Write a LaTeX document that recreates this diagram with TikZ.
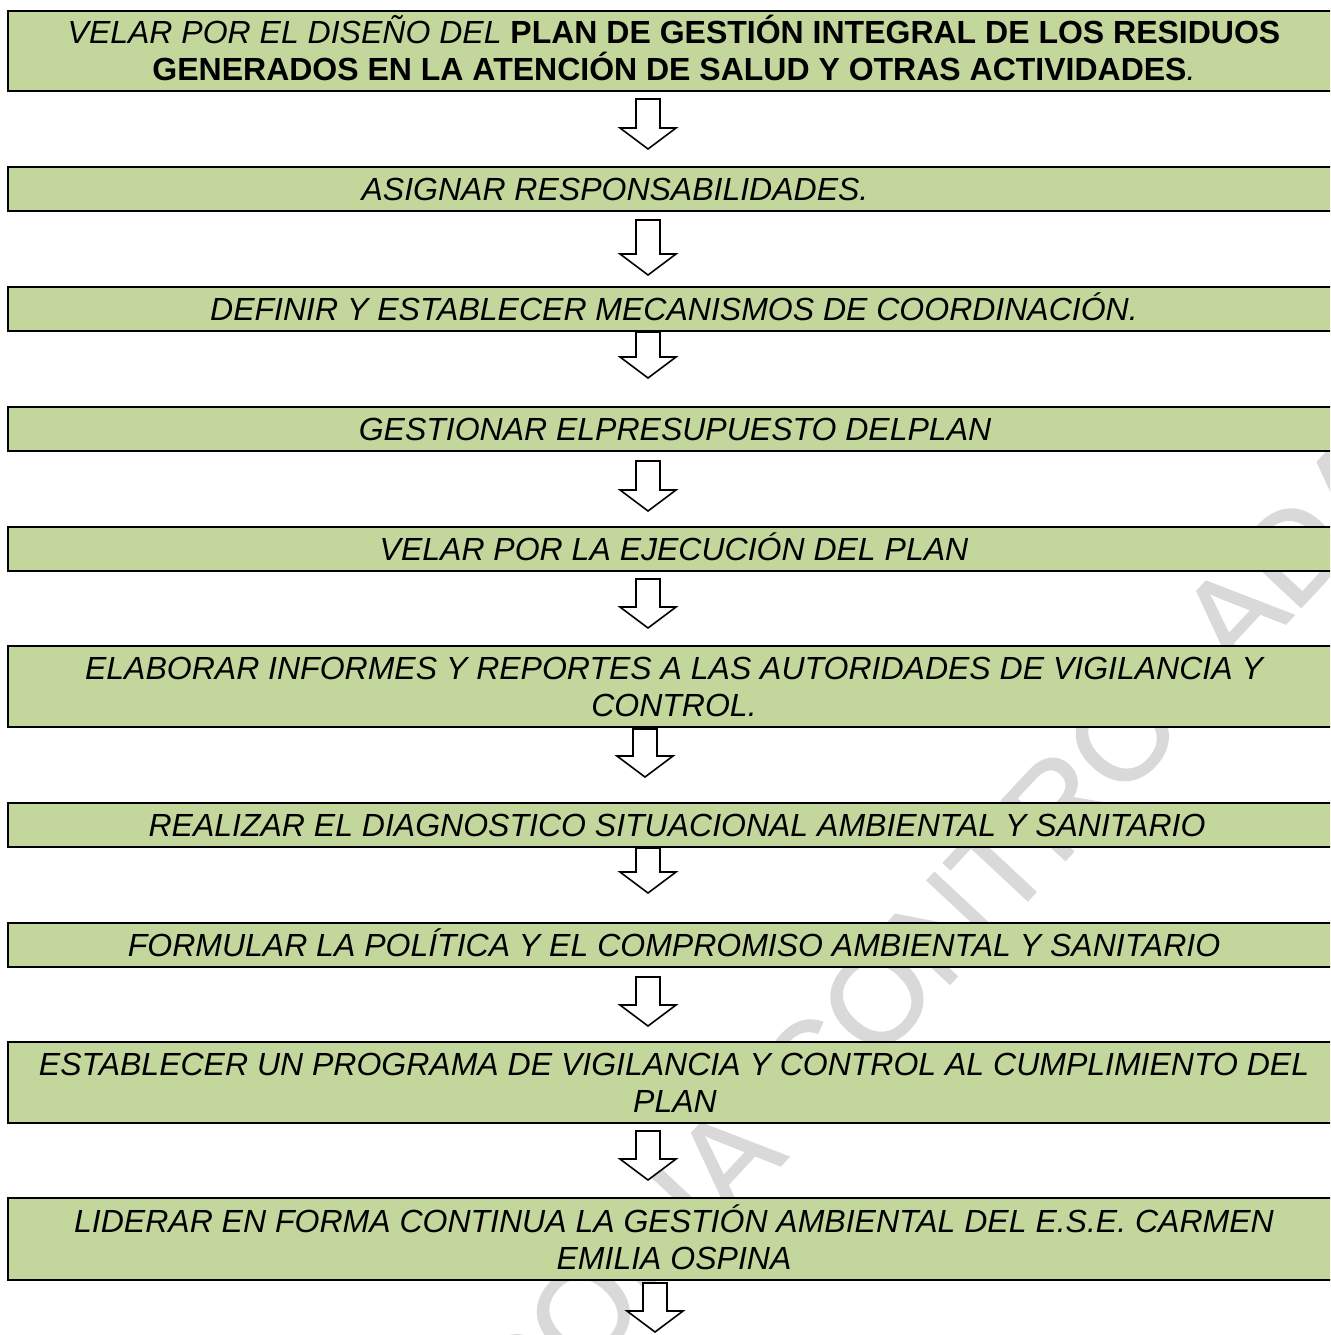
\documentclass[tikz,border=0pt]{standalone}
\usepackage{fontspec}
\setmainfont{Liberation Sans}
\newfontfamily\wmfont[FakeBold=1.2]{Liberation Sans}
\definecolor{boxgreen}{RGB}{195,214,155}
\definecolor{wmgray}{RGB}{217,217,217}
\newcommand\blockarr[3]{%
  \draw[blockarrow] (#1-12,#2) -- (#1+12,#2) -- (#1+12,#3-21) -- (#1+28,#3-21)
    -- (#1,#3) -- (#1-28,#3-21) -- (#1-12,#3-21) -- cycle;}
\begin{document}
\begin{tikzpicture}[x=1pt,y=-1pt,
  stepbox/.style={draw=black, line width=2pt, fill=boxgreen, minimum width=1332pt, inner sep=0pt},
  lbl/.style={inner sep=0pt, text height=23pt, text depth=0pt, font=\fontsize{32}{37}\selectfont\itshape},
  blockarrow/.style={draw=black, line width=1.6pt, fill=white, line join=miter},
  wmark/.style={text=wmgray, inner sep=0pt, font=\wmfont\fontsize{127}{127}\selectfont, rotate=47}]
\useasboundingbox (0,0) rectangle (1330,1335);
\clip (0,0) rectangle (1330,1335);
% watermark
\node[wmark] (wm) at (935,936) {COPIA CONTROLADA};
% boxes
\node[stepbox, minimum height=80pt] (b1) at (674,51) {};
\node[stepbox, minimum height=44pt] (b2) at (674,189) {};
\node[stepbox, minimum height=44pt] (b3) at (674,309) {};
\node[stepbox, minimum height=44pt] (b4) at (674,429) {};
\node[stepbox, minimum height=44pt] (b5) at (674,549) {};
\node[stepbox, minimum height=81pt] (b6) at (674,686.5) {};
\node[stepbox, minimum height=44pt] (b7) at (674,825) {};
\node[stepbox, minimum height=44pt] (b8) at (674,945) {};
\node[stepbox, minimum height=81pt] (b9) at (674,1082.5) {};
\node[stepbox, minimum height=82pt] (b10) at (674,1239) {};
% texts
\node[lbl] (t1a) at (674,32.5) {VELAR POR EL DISEÑO DEL \textbf{\upshape PLAN DE GESTIÓN INTEGRAL DE LOS RESIDUOS}};
\node[lbl] (t1b) at (674,69.5) {\textbf{\upshape GENERADOS EN LA ATENCIÓN DE SALUD Y OTRAS ACTIVIDADES}.};
\node[lbl] (t2) at (615,189) {ASIGNAR RESPONSABILIDADES.};
\node[lbl] (t3) at (674,309) {DEFINIR Y ESTABLECER MECANISMOS DE COORDINACIÓN.};
\node[lbl] (t4) at (675,429) {GESTIONAR ELPRESUPUESTO DELPLAN};
\node[lbl] (t5) at (674,549) {VELAR POR LA EJECUCIÓN DEL PLAN};
\node[lbl] (t6a) at (674,668) {ELABORAR INFORMES Y REPORTES A LAS AUTORIDADES DE VIGILANCIA Y};
\node[lbl] (t6b) at (674,705) {CONTROL.};
\node[lbl] (t7) at (677,825) {REALIZAR EL DIAGNOSTICO SITUACIONAL AMBIENTAL Y SANITARIO};
\node[lbl] (t8) at (674,945) {FORMULAR LA POLÍTICA Y EL COMPROMISO AMBIENTAL Y SANITARIO};
\node[lbl] (t9a) at (674,1064) {ESTABLECER UN PROGRAMA DE VIGILANCIA Y CONTROL AL CUMPLIMIENTO DEL};
\node[lbl] (t9b) at (675,1101) {PLAN};
\node[lbl] (t10a) at (674,1221) {LIDERAR EN FORMA CONTINUA LA GESTIÓN AMBIENTAL DEL E.S.E. CARMEN};
\node[lbl] (t10b) at (674,1258) {EMILIA OSPINA};
% block arrows
\blockarr{648}{99}{149}
\blockarr{648}{220}{275}
\blockarr{648}{332}{378}
\blockarr{648}{461}{511}
\blockarr{648}{579}{628}
\blockarr{645}{729}{777}
\blockarr{648}{848}{893}
\blockarr{648}{977}{1026}
\blockarr{648}{1131}{1180}
\blockarr{655}{1283}{1332}
\end{tikzpicture}
\end{document}
